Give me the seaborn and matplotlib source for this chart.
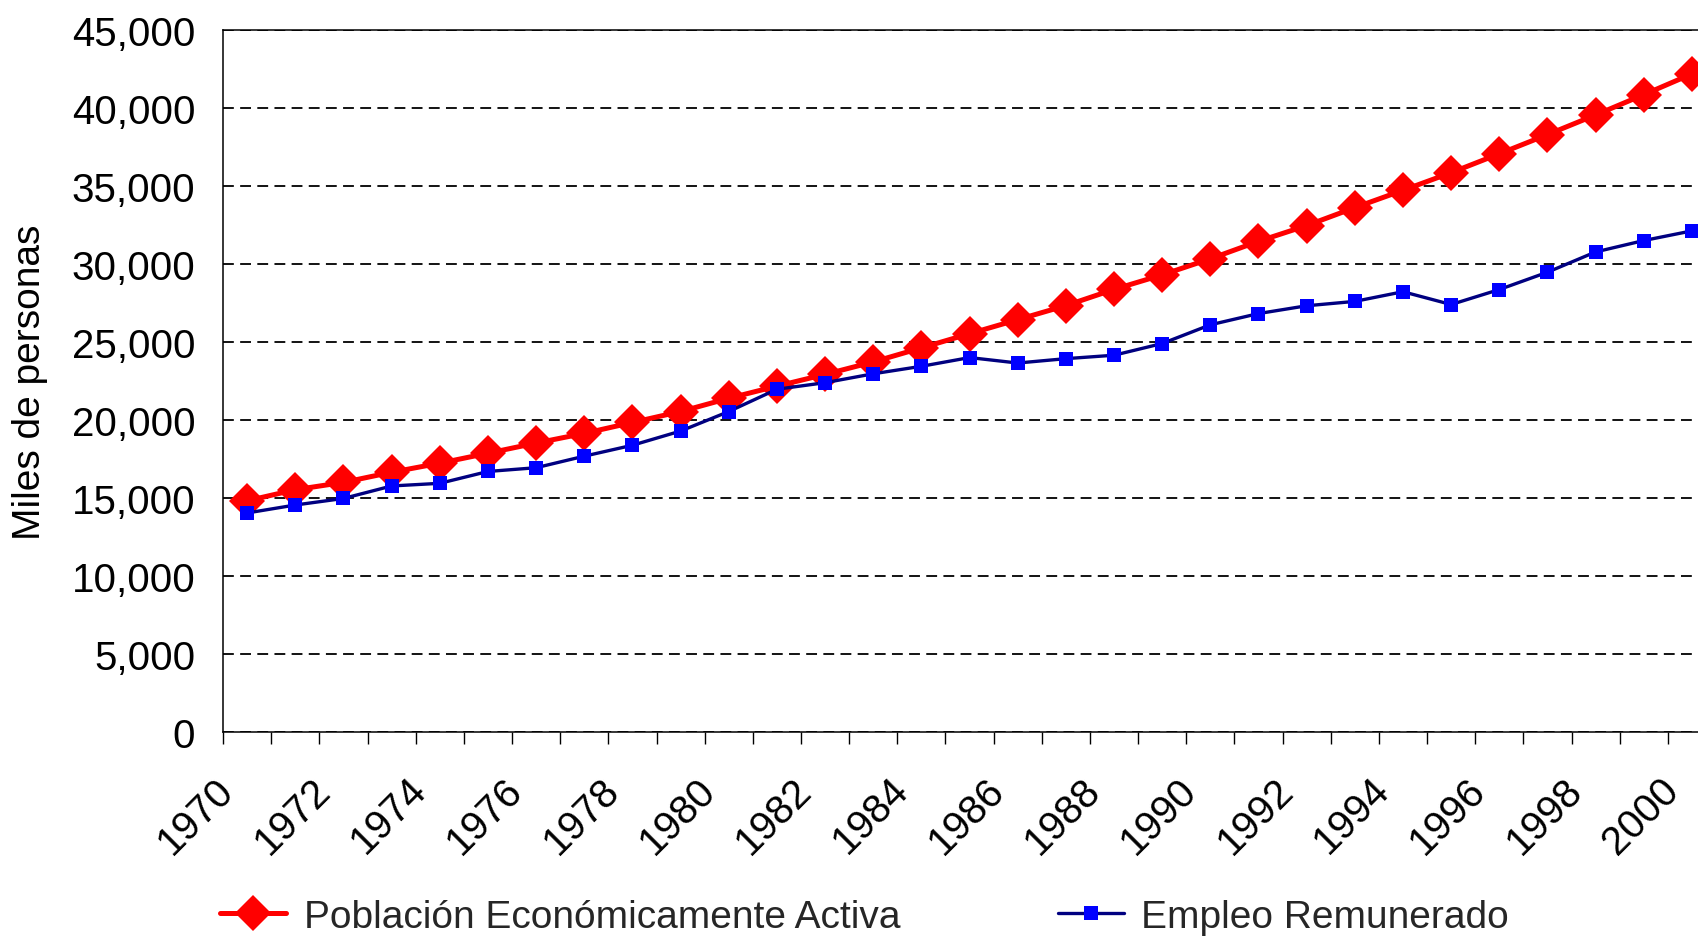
import matplotlib
matplotlib.use("Agg")
import matplotlib.pyplot as plt
import matplotlib.transforms as mtransforms
from matplotlib.ticker import FixedLocator, FuncFormatter
import seaborn as sns

# --- CONFIGURATION VISUELLE ---
sns.set_theme(style="white")
plt.rcParams['font.family'] = ['Liberation Sans', 'DejaVu Sans']

# --- DONNEES (miles de personas) ---
anios = list(range(1970, 2001))
pea = [14850, 15560, 16030, 16680, 17260, 17900, 18550, 19170, 19870, 20570,
       21420, 22200, 22950, 23750, 24650, 25560, 26460, 27360, 28400, 29330,
       30360, 31480, 32490, 33640, 34750, 35880, 37090, 38320, 39580, 40880,
       42210]
empleo = [14070, 14580, 15000, 15800, 15970, 16730, 16970, 17710, 18410, 19320,
          20570, 22000, 22420, 22990, 23470, 24030, 23680, 23960, 24180, 24930,
          26130, 26850, 27350, 27630, 28250, 27430, 28390, 29500, 30800, 31530,
          32150]
anios_etiqueta = list(range(1970, 2001, 2))
y_ticks = list(range(0, 45001, 5000))
serie_pea = "Población Económicamente Activa"
serie_empleo = "Empleo Remunerado"

fig = plt.figure(figsize=(16.99, 9.37), dpi=100)
ax = fig.add_axes([0.1313, 0.2172, 1.010 - 0.1313, 0.9665 - 0.2172])

sns.lineplot(x=anios, y=pea, ax=ax, color='#FF0000', linewidth=3.6,
             marker='D', markersize=18, markeredgewidth=0, label=serie_pea)
sns.lineplot(x=anios, y=empleo, ax=ax, color='#000080', linewidth=2.4,
             marker='s', markersize=10, markerfacecolor='#0000FF',
             markeredgewidth=0, label=serie_empleo)

# Axe Y
ax.set_ylim(0, 45000)
ax.yaxis.set_major_locator(FixedLocator(y_ticks))
ax.yaxis.set_major_formatter(FuncFormatter(lambda v, p: f"{v:,.0f}"))
ax.tick_params(axis='y', length=0, pad=20, labelsize=29, colors='black')
ax.set_ylabel("Miles de personas", fontsize=28, color='black')
ax.yaxis.set_label_coords(-0.117, 0.5)
ax.yaxis.grid(True, color='black', linestyle=(0, (6, 3.5)), linewidth=1.3)
ax.xaxis.grid(False)
ax.set_axisbelow(True)

# Axe X (catégories)
ax.set_xlim(anios[0] - 0.5, anios[-1] + 0.5)
ax.xaxis.set_major_locator(FixedLocator(anios_etiqueta))
ax.xaxis.set_minor_locator(FixedLocator([a - 0.5 for a in anios] + [anios[-1] + 0.5]))
ax.set_xticklabels([str(a) for a in anios_etiqueta])
ax.tick_params(axis='x', which='major', length=0, pad=27, labelsize=29,
               labelrotation=45, colors='black')
ax.tick_params(axis='x', which='minor', bottom=True, length=8.6, width=1.0,
               color='black', direction='out')
decalage = mtransforms.ScaledTranslation(-0.06, 0, fig.dpi_scale_trans)
for lbl in ax.get_xticklabels():
    lbl.set_ha('right')
    lbl.set_transform(lbl.get_transform() + decalage)
ax.set_xlabel("")

for side in ['left', 'bottom', 'top']:
    ax.spines[side].set_color('black')
    ax.spines[side].set_linewidth(1.1)
ax.spines['right'].set_visible(False)

# Légende en bas
handles, labels = ax.get_legend_handles_labels()
ax.get_legend().remove()
fig.legend(handles, labels, loc='center left', bbox_to_anchor=(220 / 1699, 0.0203),
           ncol=2, frameon=False, fontsize=28, handlelength=1.7,
           handletextpad=0.45, columnspacing=4.05, borderpad=0, borderaxespad=0)

fig.savefig("out.png", dpi=100)
